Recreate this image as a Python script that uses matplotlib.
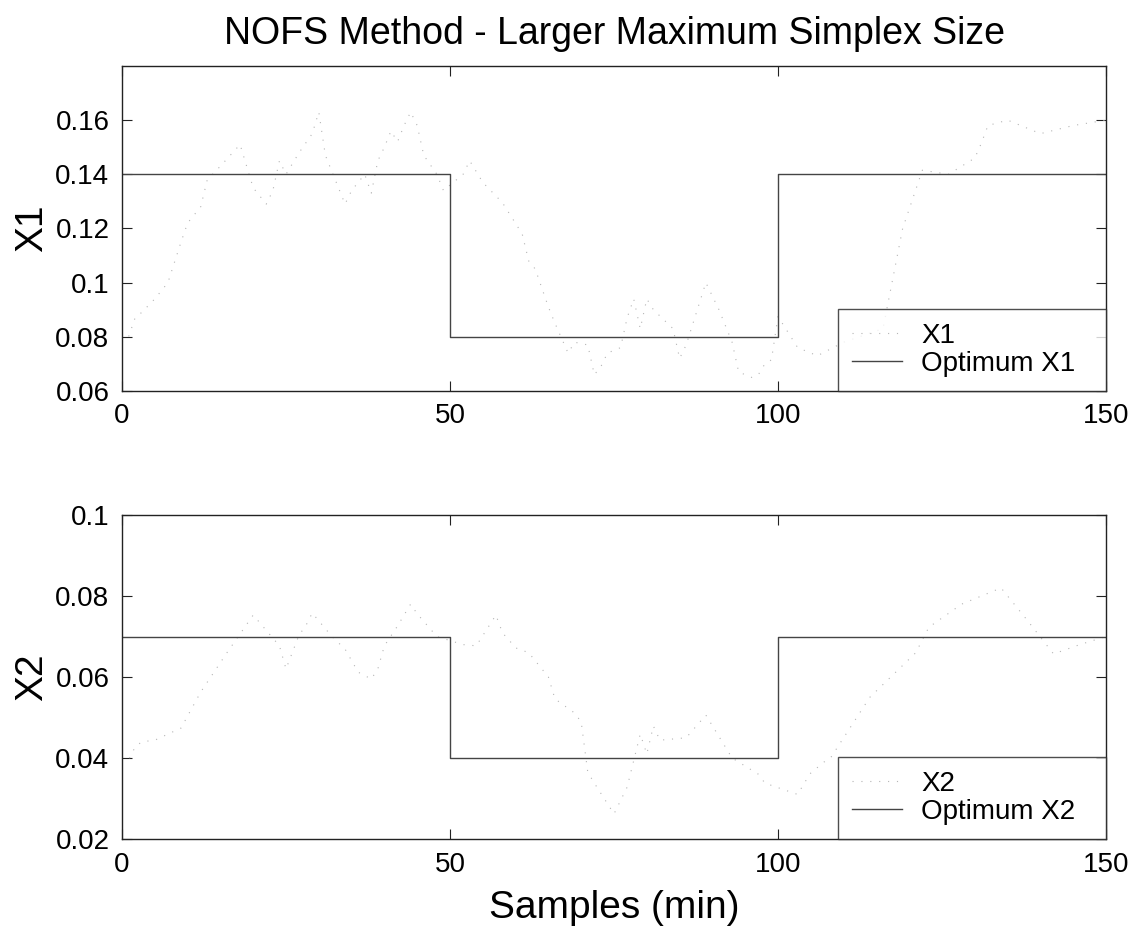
import matplotlib
matplotlib.use("Agg")
import matplotlib.pyplot as plt

plt.rcParams['font.family'] = ['Liberation Sans', 'DejaVu Sans']

# sample times (min) and values
x1_t = [0, 1, 2, 3, 5, 7, 9, 10, 12, 13, 15, 18, 20, 22, 23, 24, 25, 27, 29, 30,
        31, 33, 34, 35, 37, 38, 39, 40, 41, 42, 43, 44, 45, 46, 48, 49, 52, 53, 55, 58,
        61, 62, 63, 65, 66, 68, 69, 71, 72, 73, 74, 76, 77, 78, 79, 80, 81, 84, 85, 86,
        89, 91, 93, 94, 96, 97, 98, 99, 100, 103, 106, 110, 116, 119, 122, 126, 130, 131, 132, 135,
        140, 145, 150]
x1_val = [0.078, 0.080, 0.087, 0.089, 0.094, 0.100, 0.115, 0.122, 0.128, 0.138, 0.143, 0.151, 0.135, 0.129, 0.134, 0.145, 0.140, 0.148, 0.155, 0.163,
          0.147, 0.135, 0.129, 0.134, 0.140, 0.133, 0.145, 0.150, 0.156, 0.152, 0.158, 0.163, 0.158, 0.147, 0.140, 0.134, 0.140, 0.145, 0.137, 0.1295,
          0.118, 0.108, 0.105, 0.091, 0.085, 0.074, 0.078, 0.077, 0.066, 0.069, 0.074, 0.076, 0.087, 0.094, 0.083, 0.094, 0.090, 0.083, 0.072, 0.077,
          0.100, 0.090, 0.078, 0.067, 0.065, 0.066, 0.070, 0.0715, 0.0875, 0.076, 0.073, 0.078, 0.083, 0.120, 0.1415, 0.140, 0.146, 0.1515, 0.158, 0.160,
          0.155, 0.158, 0.160]

x2_t = [0, 1, 2, 3, 5, 9, 12, 16, 20, 24, 25, 27, 28, 29, 32, 34, 36, 38, 39, 40,
        42, 44, 45, 48, 52, 54, 57, 58, 59, 60, 62, 65, 66, 69, 70, 71, 72, 75, 77, 79,
        80, 81, 82, 86, 89, 93, 97, 98, 103, 104, 105, 107, 108, 114, 121, 123, 128, 134, 138, 142,
        146, 150]
x2_val = [0.040, 0.0395, 0.0427, 0.044, 0.0444, 0.0474, 0.0563, 0.066, 0.0753, 0.0677, 0.062, 0.0704, 0.0726, 0.0758, 0.070, 0.0669, 0.0612, 0.0595, 0.062, 0.0677,
          0.0726, 0.078, 0.0756, 0.070, 0.068, 0.0677, 0.0753, 0.0709, 0.0691, 0.0672, 0.066, 0.060, 0.0546, 0.0511, 0.0489, 0.0365, 0.0338, 0.0262, 0.0328, 0.0459,
          0.041, 0.0479, 0.0444, 0.045, 0.0506, 0.040, 0.036, 0.0338, 0.031, 0.0338, 0.0363, 0.039, 0.040, 0.055, 0.066, 0.0723, 0.078, 0.082, 0.074, 0.0657,
          0.068, 0.070]

# optimum set points (step changes at 50 and 100 min)
opt_t = [0, 50, 50, 100, 100, 150]
opt_x1 = [0.14, 0.14, 0.08, 0.08, 0.14, 0.14]
opt_x2 = [0.07, 0.07, 0.04, 0.04, 0.07, 0.07]

xticks = [0, 50, 100, 150]
yticks1 = [0.06, 0.08, 0.1, 0.12, 0.14, 0.16]
yticks2 = [0.02, 0.04, 0.06, 0.08, 0.1]
ytick_labels1 = ['0.06', '0.08', '0.1', '0.12', '0.14', '0.16']
ytick_labels2 = ['0.02', '0.04', '0.06', '0.08', '0.1']

fig = plt.figure(figsize=(11.38, 9.34), dpi=100)
ax1 = fig.add_axes([0.1072, 0.5814, 0.8647, 0.3480])
ax2 = fig.add_axes([0.1072, 0.1017, 0.8647, 0.3469])


def style_axes(ax, yticks, ylabels, ylim, name):
    ax.set_xlim(0, 150)
    ax.set_ylim(*ylim)
    ax.set_xticks(xticks)
    ax.set_xticklabels([str(t) for t in xticks])
    ax.set_yticks(yticks)
    ax.set_yticklabels(ylabels)
    ax.tick_params(direction='in', top=True, right=True, length=7, width=0.8,
                   color='#222222', labelsize=20, pad=9)
    for sp in ax.spines.values():
        sp.set_color('#222222')
        sp.set_linewidth(1.0)
    ax.set_ylabel(name, fontsize=28, labelpad=4)
    # legend box sits in the lower right corner, a bit wider than its content
    leg = ax.legend(loc='lower left', bbox_to_anchor=(0.7276, 0.0, 0.2724, 0.25),
                    mode='expand', fontsize=20, frameon=True, fancybox=False,
                    borderaxespad=0, handlelength=1.8, handletextpad=0.7,
                    borderpad=0.5, labelspacing=0.07)
    leg.get_frame().set_edgecolor('#222222')
    leg.get_frame().set_linewidth(1.0)


ax1.plot(x1_t, x1_val, color='#b5b5b5', lw=0.8, linestyle=(0, (1, 7)), label='X1')
ax1.plot(opt_t, opt_x1, color='#444444', lw=1.0, label='Optimum X1')
style_axes(ax1, yticks1, ytick_labels1, (0.06, 0.18), 'X1')
ax1.set_title('NOFS Method - Larger Maximum Simplex Size', fontsize=27, pad=16)

ax2.plot(x2_t, x2_val, color='#b5b5b5', lw=0.8, linestyle=(0, (1, 7)), label='X2')
ax2.plot(opt_t, opt_x2, color='#444444', lw=1.0, label='Optimum X2')
style_axes(ax2, yticks2, ytick_labels2, (0.02, 0.1), 'X2')
ax2.set_xlabel('Samples (min)', fontsize=28, labelpad=9)

fig.savefig('out.png', dpi=100)
plt.close(fig)
